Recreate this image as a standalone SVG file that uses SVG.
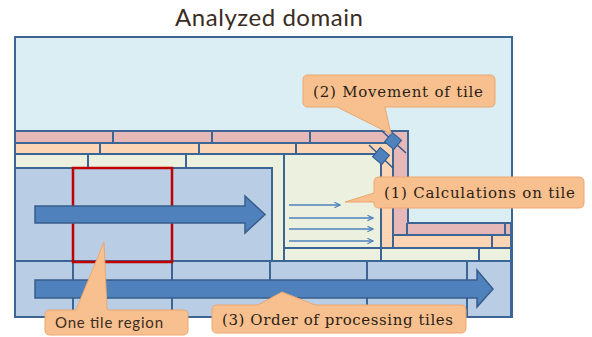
<svg xmlns="http://www.w3.org/2000/svg" width="592" height="337" viewBox="0 0 592 337">
<defs>
<style>
.ln{stroke:#3c6494;stroke-width:2;fill:none}
.bg{fill:#dbeef4;stroke:#3c6494;stroke-width:2}
.pink{fill:#e6b9b8;stroke:#3c6494;stroke-width:2}
.orange{fill:#fcd5b5;stroke:#3c6494;stroke-width:2}
.yel{fill:#ebf1de;stroke:#3c6494;stroke-width:2}
.blue{fill:#b9cde5;stroke:#3c6494;stroke-width:2}
.big{fill:#4f81bd;stroke:#385d8a;stroke-width:1.5}
.small{stroke:#4f81bd;stroke-width:1.6;fill:none}
.call{fill:#f9c08f;stroke:#eba770;stroke-width:1}
.ser{font-family:"DejaVu Serif","Liberation Serif",serif;font-size:15px;fill:#2a1f14;font-weight:500}
.sans{font-family:Lato,"Open Sans","Liberation Sans",sans-serif;fill:#3a2d1f}
</style>
<marker id="ah" viewBox="0 0 10 10" refX="9" refY="5" markerWidth="7" markerHeight="7" markerUnits="userSpaceOnUse" orient="auto">
<path d="M1,1 L9,5 L1,9" fill="none" stroke="#4f81bd" stroke-width="1.6"/>
</marker>
</defs>
<text x="175" y="26" class="sans" font-size="24" textLength="188" fill="#333">Analyzed domain</text>
<g id="domain">
<rect class="bg" x="15" y="37" width="497" height="280"/>
</g>
<g id="pink-tiles">
<path class="pink" d="M15,131 H408 V223 H511 V235 H393 V143 H15 Z"/>
<path class="ln" d="M113,131 V143 M212,131 V143 M310,131 V143 M407,223 V235 M505,223 V235"/>
</g>
<g id="orange-tiles">
<path class="orange" d="M15,143 H393 V235 H511 V248 H381 V154 H15 Z"/>
<path class="ln" d="M100,143 V154 M199,143 V154 M296,143 V154 M393,235 V248 M492,235 V248"/>
</g>
<g id="yellow-tiles">
<path class="yel" d="M15,154 H381 V248 H511 V261 H272 V168 H15 Z"/>
<path class="ln" d="M88,154 V168 M186,154 V168 M381,248 V261 M479,248 V261"/>
</g>
<g id="current-tile">
<rect class="yel" x="284" y="154" width="97" height="107"/>
<line class="ln" x1="284" y1="248" x2="381" y2="248"/>
</g>
<g id="blue-tiles">
<path class="blue" d="M15,168 H272 V261 H511 V317 H15 Z"/>
<path class="ln" d="M15,261 H272 M73,261 V317 M172,261 V317 M270,261 V317 M367,261 V317 M467,261 V317"/>
</g>
<g id="one-tile">
<rect x="73" y="168" width="99" height="94" fill="none" stroke="#c00000" stroke-width="2.5"/>
</g>
<g id="connectors">
<polygon class="big" points="35,206 245,206 245,196 265,214.5 245,233 245,223 35,223"/>
<polygon class="big" points="35,280 477,280 477,270 493,289 477,307 477,298 35,298"/>
<line class="small" x1="289" y1="205" x2="340" y2="205" marker-end="url(#ah)"/>
<line class="small" x1="289" y1="218" x2="373" y2="218" marker-end="url(#ah)"/>
<line class="small" x1="289" y1="229" x2="373" y2="229" marker-end="url(#ah)"/>
<line class="small" x1="289" y1="241" x2="373" y2="241" marker-end="url(#ah)"/>
<g id="move1">
<line x1="382" y1="131" x2="406" y2="153" stroke="#2f5a8c" stroke-width="1.5"/>
<rect x="387" y="135" width="12" height="12" transform="rotate(40 393 141)" fill="#4f81bd" stroke="#2f5a8c" stroke-width="1"/>
</g>
<g id="move2">
<line x1="369" y1="145" x2="393" y2="168" stroke="#2f5a8c" stroke-width="1.5"/>
<rect x="375" y="150" width="12" height="12" transform="rotate(40 381 156)" fill="#4f81bd" stroke="#2f5a8c" stroke-width="1"/>
</g>
</g>
<g id="callout-movement">
<path class="call" d="M308,75 H490 Q495,75 495,80 V102 Q495,107 490,107 H385 L391,134 L337,107 H308 Q303,107 303,102 V80 Q303,75 308,75 Z"/>
<text class="ser" x="313" y="97" textLength="170">(2) Movement of tile</text>
</g>
<g id="callout-calc">
<path class="call" d="M379,177 H579 Q584,177 584,182 V203 Q584,208 579,208 H379 Q374,208 374,203 V202 L345,202 L374,193 V182 Q374,177 379,177 Z"/>
<text class="ser" x="384" y="198" textLength="191">(1) Calculations on tile</text>
</g>
<g id="callout-tile">
<path class="call" d="M50,310 H76 L104,242 L107,310 H183 Q188,310 188,315 V330 Q188,335 183,335 H50 Q45,335 45,330 V315 Q45,310 50,310 Z"/>
<text class="sans" x="55" y="328" font-size="15" textLength="108">One tile region</text>
</g>
<g id="callout-order">
<path class="call" d="M217,305 H258 L282,292 L315,305 H461 Q466,305 466,310 V328 Q466,333 461,333 H217 Q212,333 212,328 V310 Q212,305 217,305 Z"/>
<text class="ser" x="222" y="325" textLength="231">(3) Order of processing tiles</text>
</g>
</svg>
